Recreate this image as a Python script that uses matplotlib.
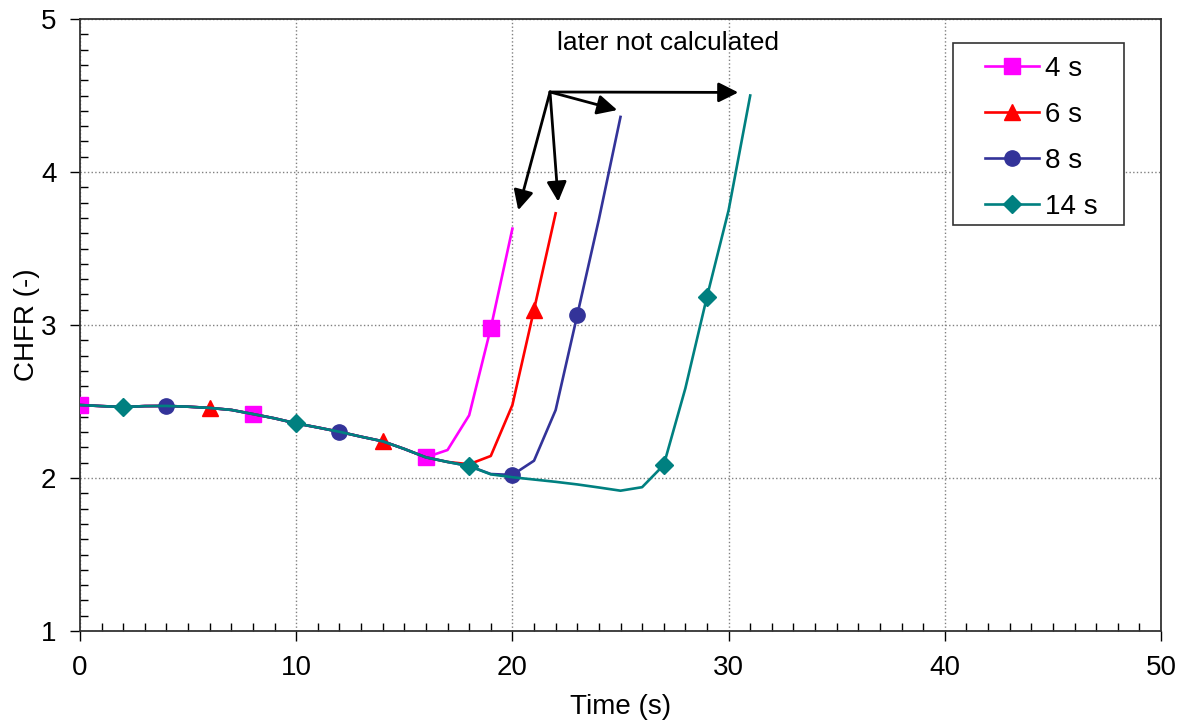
import matplotlib.pyplot as plt
from matplotlib.patches import Rectangle
from matplotlib.ticker import MultipleLocator

plt.rcParams['font.family'] = ['Liberation Sans', 'DejaVu Sans']

# shared part of all transients (t = 0..16 s)
t_common = [0, 1, 2, 3, 4, 5, 6, 7, 8, 9, 10, 11, 12, 13, 14, 15, 16]
chfr_common = [2.477, 2.47, 2.464, 2.47, 2.471, 2.466, 2.458, 2.445, 2.418, 2.39,
               2.357, 2.33, 2.302, 2.27, 2.24, 2.19, 2.135]

t_4s = t_common + [17, 18, 19, 20]
chfr_4s = chfr_common + [2.183, 2.41, 2.98, 3.63]

t_6s = t_common + [17, 18, 19, 20, 21, 22]
chfr_6s = chfr_common + [2.105, 2.09, 2.144, 2.477, 3.10, 3.73]

t_8s = t_common + [17, 18, 19, 20, 21, 22, 23, 24, 25]
chfr_8s = chfr_common + [2.105, 2.078, 2.026, 2.02, 2.113, 2.444, 3.065, 3.69, 4.36]

t_14s = t_common + [17, 18, 19, 20, 21, 22, 23, 24, 25, 26, 27, 28, 29, 30, 31]
chfr_14s = chfr_common + [2.105, 2.078, 2.024, 2.005, 1.99, 1.975, 1.958, 1.938,
                          1.917, 1.94, 2.085, 2.586, 3.185, 3.75, 4.50]

labels = ['4 s', '6 s', '8 s', '14 s']
colors = ['#FF00FF', '#FF0000', '#333399', '#008080']
markers = ['s', '^', 'o', 'D']
marker_sizes = [11, 12, 11, 9]
# which samples carry a marker
marker_idx = [[0, 8, 16, 19], [6, 14, 21], [4, 12, 20, 23], [2, 10, 18, 27, 29]]

# arrow annotation
arrow_from = (21.74, 4.523)
arrow_tips = [(20.27, 3.75), (22.12, 3.806), (24.85, 4.405), (30.45, 4.52)]

W, H = 1189, 725
fig = plt.figure(figsize=(W / 100, H / 100), dpi=100)
ax = fig.add_axes([80 / W, 94 / H, 1081 / W, 612 / H])

series = [(t_4s, chfr_4s), (t_6s, chfr_6s), (t_8s, chfr_8s), (t_14s, chfr_14s)]
handles = []
for i, (t, y) in enumerate(series):
    h, = ax.plot(t, y, color=colors[i], lw=1.9, marker=markers[i], ms=marker_sizes[i],
                 markevery=marker_idx[i], markeredgecolor=colors[i],
                 label=labels[i], zorder=3 + 0.2 * i)
    handles.append(h)

for tip in arrow_tips:
    ax.annotate('', xy=tip, xytext=arrow_from,
                arrowprops=dict(arrowstyle='-|>', color='black', lw=2,
                                mutation_scale=30, shrinkA=0, shrinkB=0))
ax.text(27.2, 4.84, 'later not calculated', fontsize=19, ha='center', va='center')

ax.set_xlim(0, 50)
ax.set_ylim(1, 5)
ax.xaxis.set_major_locator(MultipleLocator(10))
ax.xaxis.set_minor_locator(MultipleLocator(1))
ax.yaxis.set_major_locator(MultipleLocator(1))
ax.yaxis.set_minor_locator(MultipleLocator(0.1))
ax.tick_params(which='major', direction='out', length=7, width=1, labelsize=20, pad=10)
ax.tick_params(which='minor', direction='in', length=6, width=1)
ax.grid(True, which='major', color='#808080', linestyle=':', lw=1)
for s in ax.spines.values():
    s.set_linewidth(1.3)
    s.set_color('#333333')

ax.set_xlabel('Time (s)', fontsize=20, labelpad=10)
ax.set_ylabel('CHFR (-)', fontsize=20, labelpad=1)

# legend box drawn separately so the padding matches the original
ax.add_patch(Rectangle((953 / W, 1 - 225 / H), 171 / W, 182 / H, transform=fig.transFigure,
                       facecolor='white', edgecolor='#333333', lw=1.2,
                       clip_on=False, zorder=4.5))
leg = ax.legend(handles=handles, loc='upper left', bbox_to_anchor=(985 / W, 1 - 56 / H),
                bbox_transform=fig.transFigure, fontsize=20, frameon=False,
                borderpad=0, labelspacing=0.72, handlelength=1.94,
                handletextpad=0.22, borderaxespad=0)
leg.set_zorder(5)

fig.savefig('out.png', dpi=100)
